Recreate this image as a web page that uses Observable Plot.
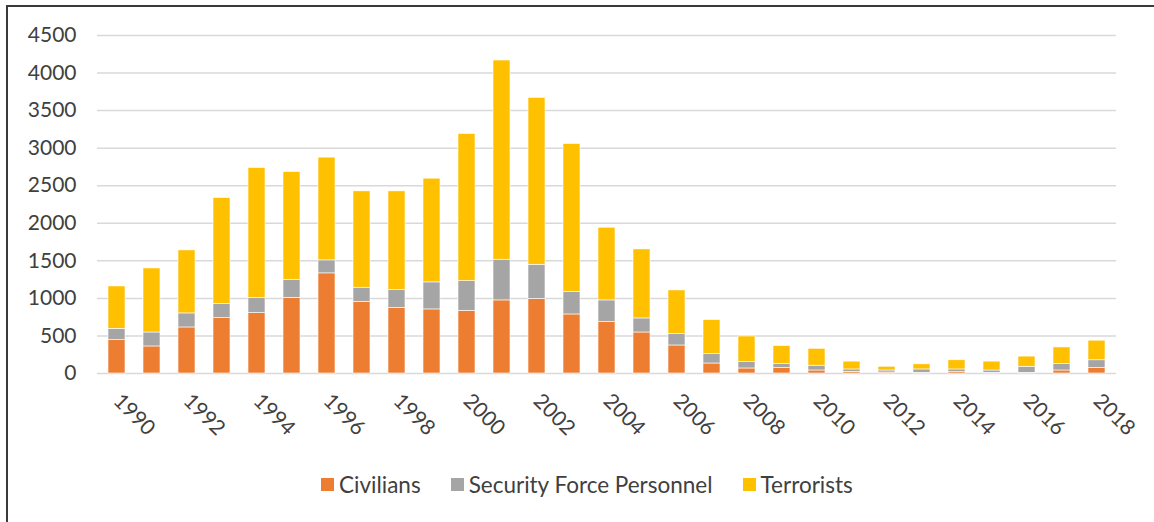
<!DOCTYPE html>
<html>
<head>
<meta charset="utf-8">
<script src="https://cdn.jsdelivr.net/npm/d3@7"></script>
<script src="https://cdn.jsdelivr.net/npm/@observablehq/plot@0.6"></script>
<style>
  html, body { margin: 0; padding: 0; background: #fff; }
  #wrap { position: relative; width: 1154px; height: 522px; overflow: hidden; font-family: Lato, "Open Sans", sans-serif; }
  #frame { position: absolute; left: 6px; top: 5px; width: 1160px; height: 530px; border-top: 2px solid #3a3a3a; border-left: 2px solid #3a3a3a; pointer-events: none; z-index: 5; }
  #legend { position: absolute; left: 321px; top: 471px; display: flex; align-items: center; gap: 30px; font-size: 22.5px; color: #404040; }
  #legend .item { display: flex; align-items: center; gap: 5px; }
  #legend .sw { width: 13px; height: 13px; display: inline-block; }
</style>
</head>
<body>
<div id="wrap">
  <div id="chart"></div>
  <div id="legend"></div>
  <div id="frame"></div>
</div>
<script>
const years = d3.range(1990, 2019);
const civilians = [444, 360, 613, 737, 804, 1008, 1333, 955, 871, 853, 835, 973, 991, 786, 684, 546, 373, 133, 67, 72, 40, 22, 13, 9, 18, 9, 9, 40, 72];
const security  = [151, 186, 187, 187, 204, 240, 173, 187, 239, 360, 395, 542, 457, 302, 289, 187, 151, 125, 84, 54, 64, 32, 27, 45, 36, 31, 81, 86, 104];
const terrorists = [564, 853, 839, 1412, 1728, 1435, 1368, 1283, 1315, 1381, 1959, 2652, 2221, 1968, 968, 919, 582, 453, 342, 239, 225, 104, 50, 68, 122, 118, 135, 221, 261];
const seriesNames = ["Civilians", "Security Force Personnel", "Terrorists"];
const seriesColors = ["#ED7D31", "#A5A5A5", "#FFC000"];
const yTicks = d3.range(0, 4501, 500);
const xTicks = years.filter(y => y % 2 === 0);

const seriesValues = [civilians, security, terrorists];
const data = [];
years.forEach((yr, i) => {
  seriesNames.forEach((s, k) => data.push({year: yr, series: s, value: seriesValues[k][i]}));
});

const chart = Plot.plot({
  width: 1154,
  height: 458,
  marginTop: 35,
  marginBottom: 85,
  marginLeft: 97,
  marginRight: 38,
  style: {background: "transparent", fontFamily: "Lato, 'Open Sans', sans-serif", fontSize: "21px", color: "#404040"},
  x: {type: "band", domain: years, paddingInner: 0.52, paddingOuter: 0.26, label: null},
  y: {domain: [0, 4500], label: null},
  color: {domain: seriesNames, range: seriesColors},
  marks: [
    Plot.ruleY(yTicks, {stroke: "#D9D9D9", strokeWidth: 1.5}),
    Plot.barY(data, {x: "year", y: "value", fill: "series", stroke: "#fff", strokeWidth: 0.6, order: seriesNames}),
    Plot.axisY(yTicks, {tickSize: 0, tickPadding: 21, fontSize: 21, tickFormat: d => String(d), label: null, fill: "#404040"}),
    Plot.axisX(xTicks, {tickSize: 0, tickPadding: 24, tickRotate: 45, fontSize: 21, tickFormat: d => String(d), label: null, fill: "#404040"})
  ]
});
document.getElementById("chart").appendChild(chart);

const legend = document.getElementById("legend");
seriesNames.forEach((s, k) => {
  const it = document.createElement("div");
  it.className = "item";
  const sw = document.createElement("span");
  sw.className = "sw";
  sw.style.background = seriesColors[k];
  const tx = document.createElement("span");
  tx.textContent = s;
  it.appendChild(sw); it.appendChild(tx);
  legend.appendChild(it);
});
</script>
</body>
</html>
